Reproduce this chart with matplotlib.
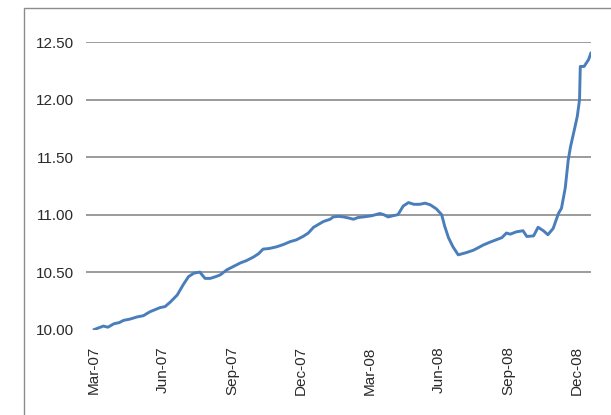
import matplotlib
matplotlib.use('Agg')
import matplotlib.pyplot as plt
import matplotlib.dates as mdates
import pandas as pd
from matplotlib.patches import Rectangle

plt.rcParams['font.family'] = ['Liberation Sans', 'DejaVu Sans']

# values
dates = ['2007-03-02', '2007-03-14', '2007-03-20', '2007-03-28', '2007-04-04', '2007-04-10',
         '2007-04-18', '2007-04-28', '2007-05-06', '2007-05-15', '2007-05-28', '2007-06-04',
         '2007-06-11', '2007-06-20', '2007-06-28', '2007-07-05', '2007-07-12', '2007-07-20',
         '2007-07-27', '2007-08-03', '2007-08-10', '2007-08-16', '2007-08-25', '2007-09-03',
         '2007-09-12', '2007-09-20', '2007-09-29', '2007-10-06', '2007-10-12', '2007-10-20',
         '2007-10-30', '2007-11-08', '2007-11-17', '2007-11-25', '2007-12-04', '2007-12-11',
         '2007-12-18', '2007-12-31', '2008-01-09', '2008-01-13', '2008-01-20', '2008-01-27',
         '2008-02-03', '2008-02-09', '2008-02-15', '2008-02-22', '2008-03-04', '2008-03-15',
         '2008-03-20', '2008-03-26', '2008-04-01', '2008-04-08', '2008-04-15', '2008-04-22',
         '2008-04-29', '2008-05-07', '2008-05-14', '2008-05-21', '2008-05-29', '2008-06-05',
         '2008-06-09', '2008-06-14', '2008-06-20', '2008-06-27', '2008-07-08', '2008-07-17',
         '2008-07-23', '2008-07-30', '2008-08-08', '2008-08-16', '2008-08-24', '2008-08-30',
         '2008-09-04', '2008-09-12', '2008-09-21', '2008-09-26', '2008-10-05', '2008-10-11',
         '2008-10-18', '2008-10-24', '2008-10-31', '2008-11-07', '2008-11-11', '2008-11-16',
         '2008-11-20', '2008-11-23', '2008-11-29', '2008-12-02', '2008-12-05', '2008-12-06',
         '2008-12-11', '2008-12-17', '2008-12-20']
rates = [10.00, 10.03, 10.02, 10.05, 10.06, 10.08,
         10.09, 10.11, 10.12, 10.155, 10.19, 10.20,
         10.24, 10.30, 10.39, 10.46, 10.49, 10.50,
         10.445, 10.445, 10.46, 10.475, 10.52, 10.55,
         10.58, 10.60, 10.63, 10.66, 10.70, 10.705,
         10.72, 10.74, 10.765, 10.78, 10.81, 10.84,
         10.89, 10.94, 10.96, 10.98, 10.985, 10.98,
         10.97, 10.96, 10.975, 10.98, 10.99, 11.01,
         11.00, 10.98, 10.99, 11.00, 11.075, 11.105,
         11.09, 11.09, 11.10, 11.085, 11.05, 11.00,
         10.90, 10.80, 10.72, 10.65, 10.67, 10.69,
         10.71, 10.735, 10.76, 10.78, 10.80, 10.84,
         10.83, 10.85, 10.86, 10.81, 10.815, 10.89,
         10.86, 10.825, 10.88, 11.01, 11.055, 11.23,
         11.475, 11.59, 11.765, 11.855, 12.00, 12.29,
         12.29, 12.35, 12.405]

yticks = [10.0, 10.5, 11.0, 11.5, 12.0, 12.5]
xticks = ['2007-03-01', '2007-06-01', '2007-09-01', '2007-12-01',
          '2008-03-01', '2008-06-01', '2008-09-01', '2008-12-01']

fig = plt.figure(figsize=(6.11, 4.15), dpi=100)
ax = fig.add_axes([0.1408, 0.206, 0.967 - 0.1408, 0.898 - 0.206])

# chart frame (only left and top edges are inside the picture)
fig.patches.append(Rectangle((24 / 611, -0.5), 2, 1.5 - 8 / 415, transform=fig.transFigure,
                             fill=False, edgecolor='#8c8c8c', lw=1.0))

ax.plot(pd.to_datetime(dates), rates, color='#4a7ebb', lw=2.1, solid_joinstyle='round')

ax.set_ylim(10.0, 12.5)
ax.set_xlim(pd.Timestamp('2007-02-19'), pd.Timestamp('2008-12-20'))
ax.set_yticks(yticks)
ax.set_yticklabels(['%.2f' % v for v in yticks])
ax.set_xticks(pd.to_datetime(xticks))
ax.xaxis.set_major_formatter(mdates.DateFormatter('%b-%y'))
for v in yticks[1:]:
    ax.axhline(v, color='#8a8a8a', lw=1.2, zorder=0)

for s in ax.spines.values():
    s.set_visible(False)
ax.tick_params(axis='y', length=0, pad=9, labelsize=11, labelcolor='#2a2a2a')
ax.tick_params(axis='x', length=0, pad=12, labelsize=11, labelcolor='#2a2a2a', labelrotation=90)

fig.savefig('out.png', dpi=100)
